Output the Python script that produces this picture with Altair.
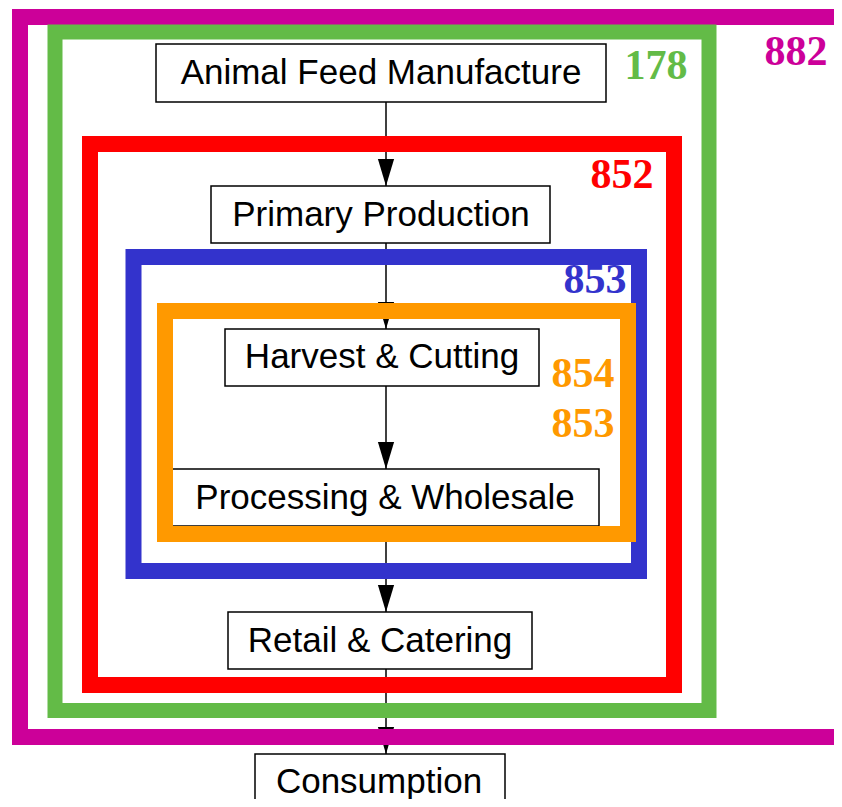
import altair as alt
import pandas as pd

# ---- data (reference pixel coordinates, y grows downward) ----
box_labels = ["Animal Feed Manufacture", "Primary Production", "Harvest & Cutting",
              "Processing & Wholesale", "Retail & Catering", "Consumption"]
box_x1 = [156, 211, 225, 172, 228, 255]
box_x2 = [606, 550, 539, 599, 532, 505]
box_y1 = [44, 186, 329, 469, 612, 754]
box_y2 = [102, 243, 386, 526, 669, 811]
text_x = [381, 381, 382, 385, 380, 379]
text_y = [84, 226, 368, 509, 652, 793]

arrow_x = [386, 386, 386, 386, 386]
arrow_from = [102, 243, 386, 526, 669]
arrow_to = [186, 329, 469, 612, 754]

frame_names = ["882", "178", "852", "853", "854"]
frame_colors = ["#CC0099", "#63BB47", "#FF0000", "#3333CC", "#FF9900"]
frame_x1 = [20, 55, 90, 133.5, 165]
frame_x2 = [849, 709, 674, 639, 628]
frame_y1 = [17, 32, 144, 257, 311]
frame_y2 = [737, 710.5, 685, 571, 534]
frame_w = [16, 15, 16, 16, 16]

label_text = ["882", "178", "852", "853", "854", "853"]
label_frame = ["882", "178", "852", "853", "854", "854"]
label_x = [796, 656, 622, 595, 583, 583]
label_y = [65, 79, 188, 293, 387, 437]

boxes = pd.DataFrame({"label": box_labels, "x1": box_x1, "x2": box_x2,
                      "y1": box_y1, "y2": box_y2, "tx": text_x, "ty": text_y})
arrows = pd.DataFrame({"x": arrow_x, "y1": arrow_from, "y2": arrow_to})
frames = pd.DataFrame({"name": frame_names, "x1": frame_x1, "x2": frame_x2,
                       "y1": frame_y1, "y2": frame_y2, "w": frame_w})
labels = pd.DataFrame({"text": label_text, "frame": label_frame,
                       "x": label_x, "y": label_y})

W, H = 826, 791
xs = alt.Scale(domain=[8, 8 + W], nice=False, zero=False)
ys = alt.Scale(domain=[8 + H, 8], nice=False, zero=False)
cs = alt.Scale(domain=frame_names, range=frame_colors)

def X(f):
    return alt.X(f, type="quantitative", scale=xs, axis=None)

def Y(f):
    return alt.Y(f, type="quantitative", scale=ys, axis=None)

rules = alt.Chart(arrows).mark_rule(color="black", strokeWidth=1.5, clip=True).encode(
    x=X("x"), y=Y("y1"), y2="y2")

heads = alt.Chart(arrows).mark_point(
    shape="M-0.6,-2L0.6,-2L0,0Z", size=729, filled=True, color="black",
    opacity=1, clip=True).encode(x=X("x"), y=Y("y2"))

box_rects = alt.Chart(boxes).mark_rect(
    fill="white", stroke="black", strokeWidth=1.5, clip=True).encode(
    x=X("x1"), x2="x2", y=Y("y1"), y2="y2")

box_text = alt.Chart(boxes).mark_text(
    font="Liberation Sans", fontSize=35, color="black", align="center",
    baseline="alphabetic", clip=True).encode(x=X("tx"), y=Y("ty"), text="label")

frame_rects = alt.Chart(frames).mark_rect(filled=False, clip=True).encode(
    x=X("x1"), x2="x2", y=Y("y1"), y2="y2",
    stroke=alt.Stroke("name:N", scale=cs, legend=None),
    strokeWidth=alt.StrokeWidth("w:Q", scale=None))

frame_text = alt.Chart(labels).mark_text(
    font="Liberation Serif", fontSize=42, fontWeight="bold", align="center",
    baseline="alphabetic", clip=True).encode(
    x=X("x"), y=Y("y"), text="text",
    color=alt.Color("frame:N", scale=cs, legend=None))

chart = alt.layer(rules, heads, box_rects, box_text, frame_rects, frame_text).properties(
    width=W, height=H, padding=0, autosize=alt.AutoSizeParams(type="none")
).configure_view(strokeWidth=0)

chart.save("out.html", embed_options={"renderer": "svg", "actions": False})
